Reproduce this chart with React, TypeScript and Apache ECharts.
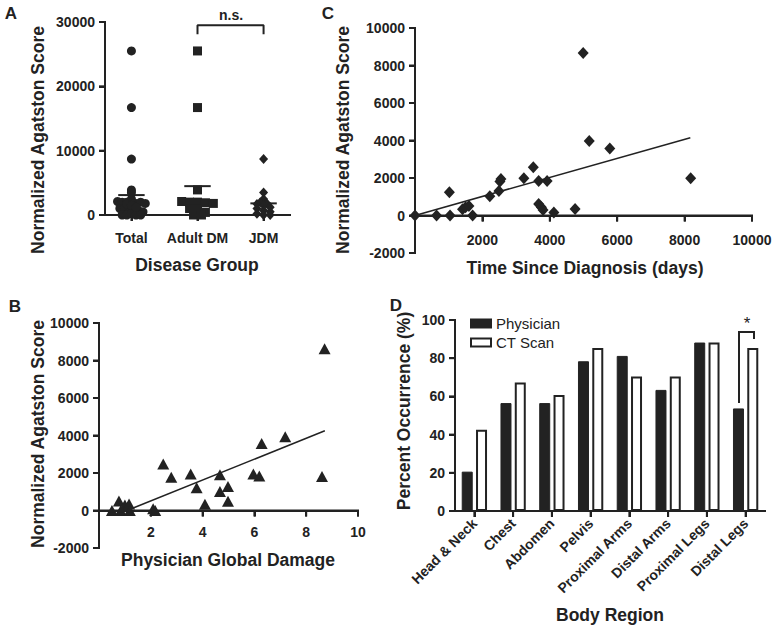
import React, { useEffect, useRef } from "react";
import * as echarts from "echarts";

// ---------- Panel A: Normalized Agatston score by disease group ----------
const groupNames = ["Total", "Adult DM", "JDM"];
const adultDMScores = [25500, 16700, 3900, 2100, 2000, 2000, 1900, 1800, 1000, 1000, 400, 0, 0];
const jdmScores = [8700, 3500, 2500, 2000, 1800, 1700, 1500, 1200, 1000, 700, 500, 200, 0, 0];
const totalScores = [...adultDMScores, ...jdmScores];
// significance bracket between Adult DM and JDM (value units)
const bracketA = [[2, 28100], [2, 29500], [3, 29500], [3, 28100]];

// ---------- Panel B: score vs physician global damage ----------
const pgaDamage = [0.5, 0.77, 0.84, 1.0, 1.16, 1.19, 2.09, 2.17, 2.48, 2.79, 3.54, 3.77, 4.09, 4.67, 4.67, 4.98, 4.98, 5.96, 6.19, 6.28, 7.19, 8.61, 8.71];
const pgaScore = [0, 510, 0, 300, 350, 0, 90, 0, 2480, 1770, 1950, 1220, 340, 1910, 1010, 1280, 500, 1950, 1840, 3580, 3940, 1810, 8630];
const pgaFit = [[1.2, 70], [8.72, 4250]];

// ---------- Panel C: score vs time since diagnosis ----------
const daysSinceDx = [0, 640, 1020, 1040, 1410, 1500, 1600, 1710, 2220, 2490, 2520, 2550, 3230, 3510, 3670, 3670, 3750, 3800, 3920, 4120, 4750, 4990, 5170, 5780, 8180];
const daysScore = [0, 0, 1240, 0, 340, 440, 510, 0, 1030, 1310, 1810, 1950, 1990, 2570, 1840, 620, 440, 300, 1840, 160, 350, 8670, 3970, 3580, 1990];
const daysFit = [[0, 0], [8170, 4150]];

// ---------- Panel D: percent occurrence by body region ----------
const bodyRegions = ["Head & Neck", "Chest", "Abdomen", "Pelvis", "Proximal Arms", "Distal Arms", "Proximal Legs", "Distal Legs"];
const physicianPct = [20.6, 56.5, 56.5, 78.4, 81.2, 63.4, 88.2, 53.7];
const ctScanPct = [42.5, 67.3, 60.7, 85.4, 70.4, 70.4, 88.2, 85.4];

// ---------- axis scales ----------
const axisA = { xMin: 0.6, xMax: 3.4, xTicks: [1, 2, 3], yMin: 0, yMax: 30000, yStep: 10000 };
const axisB = { xMin: 0, xMax: 10, xStep: 2, yMin: -2000, yMax: 10000, yStep: 2000 };
const axisC = { xMin: 0, xMax: 10000, xStep: 2000, yMin: -2000, yMax: 10000, yStep: 2000 };
const axisD = { yMin: 0, yMax: 100, yStep: 20 };

const ink = "#222222";
const font = "'Liberation Sans', Arial, sans-serif";

const grids = [
  { left: 105, top: 22, width: 185, height: 193 },
  { left: 99, top: 323, width: 259, height: 225 },
  { left: 415, top: 28, width: 337, height: 225 },
  { left: 455, top: 320, width: 310, height: 191 },
];

function swarm(values: number[], center: number, binWidth: number, step: number) {
  const bins = new Map<number, number[]>();
  values.forEach((v) => {
    const b = Math.round(v / binWidth);
    if (!bins.has(b)) bins.set(b, []);
    bins.get(b)!.push(v);
  });
  const out: number[][] = [];
  bins.forEach((list) => list.forEach((v, k) => out.push([center + (k - (list.length - 1) / 2) * step, v])));
  return out;
}
const mean = (a: number[]) => a.reduce((s, v) => s + v, 0) / a.length;
const steps = (min: number, max: number, step: number) => {
  const out: number[] = [];
  for (let v = min; v <= max + 1e-9; v += step) out.push(v);
  return out;
};

export default function App() {
  const ref = useRef<HTMLDivElement>(null);
  useEffect(() => {
    if (!ref.current) return;
    const chart = echarts.init(ref.current, null, { renderer: "svg" });

    const lbl = (extra: any = {}) => ({ show: true, color: ink, fontSize: 14, fontWeight: "bold", fontFamily: font, margin: 10, formatter: (v: any) => String(v), ...extra });
    const tick = (extra: any = {}) => ({ show: true, length: 6, lineStyle: { color: ink, width: 2 }, ...extra });
    const line = () => ({ show: true, lineStyle: { color: ink, width: 2 } });
    const noSplit = () => ({ show: false });
    const zeroLabel = (v: number) => (v === 0 ? "" : String(v));

    const txt = (text: string, x: number, y: number, opts: any = {}) => ({
      type: "text", x, y, rotation: opts.rotation || 0,
      style: { text, fill: ink, font: `${opts.weight || "bold"} ${opts.size || 17.5}px ${font}`, align: "center", verticalAlign: "middle" },
    });

    const groups = [totalScores, adultDMScores, jdmScores];
    const meanLines = groups.map((g, i) => ({
      type: "line", xAxisIndex: 0, yAxisIndex: 0,
      data: [[i + 1 - 0.2, mean(g)], [i + 1 + 0.2, mean(g)]],
      symbol: "none", lineStyle: { color: ink, width: 2 }, z: 3,
    }));

    const graphics: any[] = [
      txt("A", 11, 13, { size: 17 }),
      txt("B", 15, 306, { size: 17 }),
      txt("C", 328, 13, { size: 17 }),
      txt("D", 396, 305, { size: 17 }),
      txt("Normalized Agatston Score", 38, 140, { rotation: Math.PI / 2 }),
      txt("Disease Group", 197, 265),
      txt("Normalized Agatston Score", 38, 434, { rotation: Math.PI / 2 }),
      txt("Physician Global Damage", 228, 560),
      txt("Normalized Agatston Score", 343, 140, { rotation: Math.PI / 2 }),
      txt("Time Since Diagnosis (days)", 585, 268),
      txt("Percent Occurrence (%)", 404, 411, { rotation: Math.PI / 2 }),
      txt("Body Region", 610, 615),
      txt("n.s.", 231, 15, { size: 14 }),
      txt("*", 747, 323, { size: 17, weight: "normal" }),
      { type: "polyline", shape: { points: [[739, 403], [739, 332], [754, 332], [754, 339]] }, style: { stroke: ink, lineWidth: 2, fill: null } },
    ];

    // Axis lines and tick marks drawn as thin filled rectangles, mapped with each grid's linear scale.
    const axisMarks: any[] = [];
    const hBar = (x1: number, x2: number, y: number) =>
      axisMarks.push({ type: "rect", silent: true, z: 10, shape: { x: Math.min(x1, x2), y: y - 1, width: Math.abs(x2 - x1), height: 2 }, style: { fill: ink } });
    const vBar = (x: number, y1: number, y2: number) =>
      axisMarks.push({ type: "rect", silent: true, z: 10, shape: { x: x - 1, y: Math.min(y1, y2), width: 2, height: Math.abs(y2 - y1) }, style: { fill: ink } });
    const T = 6;
    const valuePanel = (gi: number, ax: any, xTicks: number[], xLineAt: number) => {
      const g = grids[gi];
      const px = (x: number) => g.left + ((x - ax.xMin) / (ax.xMax - ax.xMin)) * g.width;
      const py = (y: number) => g.top + g.height - ((y - ax.yMin) / (ax.yMax - ax.yMin)) * g.height;
      const yL = py(xLineAt);
      hBar(px(ax.xMin) - 1, px(ax.xMax) + 1, yL);
      vBar(px(ax.xMin), py(ax.yMin) + 1, py(ax.yMax) - 1);
      steps(ax.yMin, ax.yMax, ax.yStep).forEach((v) => hBar(px(ax.xMin) - T, px(ax.xMin), py(v)));
      xTicks.forEach((v) => vBar(px(v), yL, yL + T));
    };
    valuePanel(0, axisA, axisA.xTicks, 0);
    valuePanel(1, axisB, steps(axisB.xStep, axisB.xMax, axisB.xStep), 0);
    valuePanel(2, axisC, steps(axisC.xStep, axisC.xMax, axisC.xStep), 0);
    {
      const g = grids[3];
      const band = g.width / bodyRegions.length;
      const py = (y: number) => g.top + g.height - ((y - axisD.yMin) / (axisD.yMax - axisD.yMin)) * g.height;
      const yB = py(0);
      hBar(g.left - 1, g.left + g.width + 1, yB);
      vBar(g.left, yB + 1, py(axisD.yMax) - 1);
      steps(axisD.yMin, axisD.yMax, axisD.yStep).forEach((v) => hBar(g.left - T, g.left, py(v)));
      bodyRegions.forEach((_, k) => vBar(g.left + (k + 0.5) * band, yB, yB + T));
    }

    const option: any = {
      animation: false,
      grid: grids,
      xAxis: [
        {
          gridIndex: 0, type: "value", min: axisA.xMin, max: axisA.xMax, axisLine: line(), splitLine: noSplit(),
          axisTick: tick({ customValues: axisA.xTicks }),
          axisLabel: lbl({ margin: 16, customValues: axisA.xTicks, formatter: (v: number) => groupNames[Math.round(v) - 1] || "" }),
        },
        { gridIndex: 1, type: "value", min: axisB.xMin, max: axisB.xMax, interval: axisB.xStep, axisLine: line(), splitLine: noSplit(), axisTick: tick(), axisLabel: lbl({ margin: -23, formatter: zeroLabel }) },
        { gridIndex: 2, type: "value", min: axisC.xMin, max: axisC.xMax, interval: axisC.xStep, axisLine: line(), splitLine: noSplit(), axisTick: tick(), axisLabel: lbl({ margin: -20.5, formatter: zeroLabel }) },
        { gridIndex: 3, type: "category", data: bodyRegions, axisLine: line(), splitLine: noSplit(), axisTick: tick({ alignWithLabel: true }), axisLabel: lbl({ margin: 10, rotate: 45, interval: 0 }) },
      ],
      yAxis: [
        { gridIndex: 0, type: "value", min: axisA.yMin, max: axisA.yMax, interval: axisA.yStep, axisLine: line(), splitLine: noSplit(), axisTick: tick(), axisLabel: lbl() },
        { gridIndex: 1, type: "value", min: axisB.yMin, max: axisB.yMax, interval: axisB.yStep, axisLine: line(), splitLine: noSplit(), axisTick: tick(), axisLabel: lbl() },
        { gridIndex: 2, type: "value", min: axisC.yMin, max: axisC.yMax, interval: axisC.yStep, axisLine: line(), splitLine: noSplit(), axisTick: tick(), axisLabel: lbl() },
        { gridIndex: 3, type: "value", min: axisD.yMin, max: axisD.yMax, interval: axisD.yStep, axisLine: line(), splitLine: noSplit(), axisTick: tick(), axisLabel: lbl() },
      ],
      legend: {
        left: 465, top: 311, orient: "vertical", itemWidth: 20, itemHeight: 8, itemGap: 4, icon: "rect",
        data: ["Physician", "CT Scan"],
        textStyle: { color: ink, fontSize: 15, fontFamily: font },
      },
      series: [
        { type: "scatter", xAxisIndex: 0, yAxisIndex: 0, symbol: "circle", symbolSize: 9, itemStyle: { color: ink, opacity: 1 }, data: swarm(totalScores, 1, 700, 0.07), z: 4 },
        { type: "scatter", xAxisIndex: 0, yAxisIndex: 0, symbol: "rect", symbolSize: 9, itemStyle: { color: ink, opacity: 1 }, data: swarm(adultDMScores, 2, 700, 0.12), z: 4 },
        { type: "scatter", xAxisIndex: 0, yAxisIndex: 0, symbol: "diamond", symbolSize: [9, 10], itemStyle: { color: ink, opacity: 1 }, data: swarm(jdmScores, 3, 700, 0.1), z: 4 },
        ...meanLines,
        { type: "line", xAxisIndex: 0, yAxisIndex: 0, data: bracketA, symbol: "none", lineStyle: { color: ink, width: 2 } },
        { type: "scatter", xAxisIndex: 1, yAxisIndex: 1, symbol: "triangle", symbolSize: [12, 11], itemStyle: { color: ink, opacity: 1 }, data: pgaDamage.map((x, i) => [x, pgaScore[i]]), z: 4 },
        { type: "line", xAxisIndex: 1, yAxisIndex: 1, data: pgaFit, symbol: "none", lineStyle: { color: ink, width: 1.5 } },
        { type: "scatter", xAxisIndex: 2, yAxisIndex: 2, symbol: "diamond", symbolSize: [11, 12], itemStyle: { color: ink, opacity: 1 }, data: daysSinceDx.map((x, i) => [x, daysScore[i]]), z: 4 },
        { type: "line", xAxisIndex: 2, yAxisIndex: 2, data: daysFit, symbol: "none", lineStyle: { color: ink, width: 1.5 } },
        { name: "Physician", type: "bar", xAxisIndex: 3, yAxisIndex: 3, data: physicianPct, barWidth: 11, barGap: "30%", itemStyle: { color: ink, borderColor: ink, borderWidth: 1 } },
        { name: "CT Scan", type: "bar", xAxisIndex: 3, yAxisIndex: 3, data: ctScanPct, barWidth: 11, itemStyle: { color: "#ffffff", borderColor: ink, borderWidth: 2 } },
      ],
      graphic: [...graphics, ...axisMarks],
    };

    chart.setOption(option);
    return () => chart.dispose();
  }, []);

  return <div ref={ref} style={{ position: "absolute", left: 0, top: 0, width: 775, height: 641, background: "#fff" }} />;
}
